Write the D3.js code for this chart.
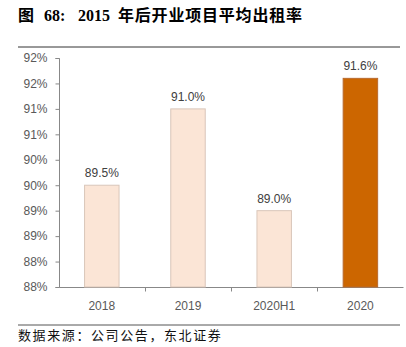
<!DOCTYPE html>
<html><head><meta charset="utf-8">
<script src="https://cdn.jsdelivr.net/npm/d3@7/dist/d3.min.js"></script>
<style>body{margin:0;background:#fff;}svg{display:block;}</style>
</head><body>
<script>
const categories = ["2018", "2019", "2020H1", "2020"];
const values = [89.5, 91.0, 89.0, 91.6];
const valueLabels = ["89.5%", "91.0%", "89.0%", "91.6%"];
const barColors = ["#FBE5D6", "#FBE5D6", "#FBE5D6", "#CC6600"];
const tickValues = [87.5, 88.0, 88.5, 89.0, 89.5, 90.0, 90.5, 91.0, 91.5, 92.0];
const tickLabels = ["88%", "88%", "89%", "89%", "90%", "90%", "91%", "91%", "92%", "92%"];
const titleParts = ["图", "68:", "2015", "年后开业项目平均出租率"];
const source = "数据来源：公司公告，东北证券";

const W = 406, H = 347;
const svg = d3.select("body").append("svg").attr("width", W).attr("height", H);

const titleX = [18, 44, 78, 118];
const t = svg.append("text").attr("y", 21)
  .attr("font-family", "'Liberation Serif','Noto Sans CJK SC',serif")
  .attr("font-weight", "bold").attr("font-size", 16).attr("fill", "#000");
t.selectAll("tspan").data(titleParts).enter().append("tspan")
  .attr("x", (d, i) => titleX[i])
  .attr("letter-spacing", (d, i) => i === 3 ? 0.8 : 0)
  .text(d => d);
svg.append("line").attr("x1", 18).attr("x2", 400).attr("y1", 47).attr("y2", 47)
  .attr("stroke", "#333").attr("stroke-width", 1);

const x = d3.scaleBand().domain(categories).range([58.7, 403.5]).paddingInner(0.6).paddingOuter(0.3);
const y = d3.scaleLinear().domain([87.5, 92.0]).range([287, 58]);

const tickMap = new Map(tickValues.map((v, i) => [v, tickLabels[i]]));
const yAxis = d3.axisLeft(y).tickValues(tickValues).tickFormat(d => tickMap.get(d)).tickSize(4).tickPadding(8);
const gy = svg.append("g").attr("transform", "translate(59.5,0)").call(yAxis);
gy.select(".domain").attr("stroke", "#888").attr("d", "M-4,58.5H0V287.5H-4");
gy.selectAll(".tick line").attr("stroke", "#888");
gy.selectAll("text").attr("font-family", "Arial,'Liberation Sans',sans-serif").attr("font-size", 12).attr("fill", "#595959");

// x axis
const xBand = d3.scaleBand().domain(categories).range([58.7, 403.5]);
const gx = svg.append("g").attr("transform", "translate(0,287.5)");
gx.append("line").attr("x1", 59.5).attr("x2", 403.5).attr("y1", 0).attr("y2", 0).attr("stroke", "#888");
gx.selectAll("line.t").data(categories.slice(1)).enter().append("line")
  .attr("x1", d => Math.round(xBand(d)) + 0.5).attr("x2", d => Math.round(xBand(d)) + 0.5)
  .attr("y1", 0).attr("y2", 4).attr("stroke", "#888");
gx.selectAll("text").data(categories).enter().append("text")
  .attr("x", d => xBand(d) + xBand.bandwidth() / 2).attr("y", 22)
  .attr("text-anchor", "middle").attr("font-family", "Arial,'Liberation Sans',sans-serif")
  .attr("font-size", 12).attr("fill", "#595959").text(d => d);

// bars
svg.selectAll("rect.bar").data(values).enter().append("rect")
  .attr("x", (d, i) => x(categories[i]))
  .attr("width", x.bandwidth())
  .attr("y", d => y(d))
  .attr("height", d => y(87.5) - y(d))
  .attr("fill", (d, i) => barColors[i])
  .attr("stroke", (d, i) => i === 3 ? "#b86a2e" : "#d9c6ba").attr("stroke-width", 1);

svg.selectAll("text.lab").data(values).enter().append("text")
  .attr("x", (d, i) => x(categories[i]) + x.bandwidth() / 2)
  .attr("y", d => y(d) - 8)
  .attr("text-anchor", "middle").attr("font-family", "Arial,'Liberation Sans',sans-serif")
  .attr("font-size", 12).attr("fill", "#404040").text((d, i) => valueLabels[i]);

svg.append("line").attr("x1", 18).attr("x2", 400).attr("y1", 325).attr("y2", 325)
  .attr("stroke", "#555").attr("stroke-width", 1);
svg.append("text").attr("x", 18).attr("y", 340)
  .attr("font-family", "'Noto Sans CJK SC',sans-serif").attr("font-size", 13)
  .attr("letter-spacing", 1.6).attr("fill", "#111")
  .text(source);
</script>
</body></html>
